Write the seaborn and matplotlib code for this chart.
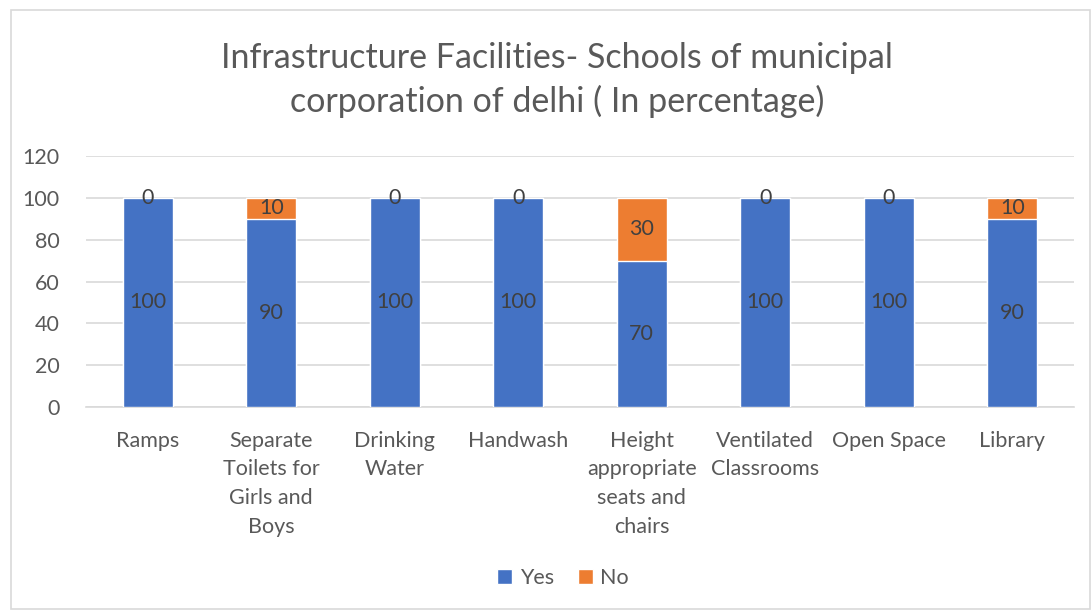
import matplotlib
matplotlib.use("Agg")
import matplotlib.pyplot as plt
import seaborn as sns
import pandas as pd
from matplotlib.patches import Patch, Rectangle

categories = ["Ramps", "Separate\nToilets for\nGirls and\nBoys", "Drinking\nWater", "Handwash",
              "Height\nappropriate\nseats and\nchairs", "Ventilated\nClassrooms", "Open Space", "Library"]
yes_vals = [100, 90, 100, 100, 70, 100, 100, 90]
no_vals = [0, 10, 0, 0, 30, 0, 0, 10]
title = "Infrastructure Facilities- Schools of municipal\ncorporation of delhi ( In percentage)"

BLUE = "#4472C4"
ORANGE = "#ED7D31"
TXT = "#595959"
LBL = "#404040"
FS = 15.5

sns.set_theme(style="white")
plt.rcParams['font.family'] = ['Lato', 'DejaVu Sans']

df = pd.DataFrame({"cat": categories, "yes": yes_vals, "no": no_vals})
df["total"] = df["yes"] + df["no"]

fig = plt.figure(figsize=(10.92, 6.12), dpi=100)
ax = fig.add_axes([86/1092, 1 - 407/612, (1074-86)/1092, (407-156)/612])

sns.barplot(data=df, x="cat", y="total", color=ORANGE, width=0.405, ax=ax, saturation=1, zorder=2)
sns.barplot(data=df, x="cat", y="yes", color=BLUE, width=0.405, ax=ax, saturation=1, zorder=3)

for i, (y, n) in enumerate(zip(yes_vals, no_vals)):
    ax.text(i, y / 2, f"{y}", ha="center", va="center", fontsize=FS, color=LBL, zorder=5)
    ax.text(i, y + n / 2, f"{n}", ha="center", va="center", fontsize=FS, color=LBL, zorder=5)

ax.set_ylim(0, 120)
ax.set_yticks(range(0, 121, 20))
ax.set_xlim(-0.5, len(categories) - 0.5)
ax.set_xticks(range(len(categories)))
ax.set_xticklabels(categories, linespacing=1.55, va="top", fontsize=FS, color=TXT)
ax.yaxis.grid(True, color="#D9D9D9", linewidth=1.2, zorder=0)
ax.set_axisbelow(True)
for s in ["top", "right", "left"]:
    ax.spines[s].set_visible(False)
ax.spines["bottom"].set_color("#D9D9D9")
ax.spines["bottom"].set_linewidth(1.2)
ax.tick_params(axis="y", length=0, labelsize=FS, labelcolor=TXT, pad=19)
ax.tick_params(axis="x", length=0, pad=17)
ax.set_xlabel("")
ax.set_ylabel("")

fig.text(557/1092, 1 - 80/612, title, ha="center", va="center", fontsize=24.5, color=TXT, linespacing=1.38)

handles = [Patch(facecolor=BLUE, label="Yes"), Patch(facecolor=ORANGE, label="No")]
fig.legend(handles=handles, loc="center", bbox_to_anchor=(563/1092, 1 - 578/612), ncol=2, frameon=False,
           fontsize=FS, labelcolor=TXT, handlelength=0.7, handleheight=0.7, handletextpad=0.35,
           columnspacing=1.1)

fig.patches.append(Rectangle((11/1092, 0.005), 1 - 13/1092, 1 - 0.005 - 10/612, transform=fig.transFigure,
                             fill=False, edgecolor="#D9D9D9", linewidth=1.2))

fig.savefig("out.png", dpi=100)
